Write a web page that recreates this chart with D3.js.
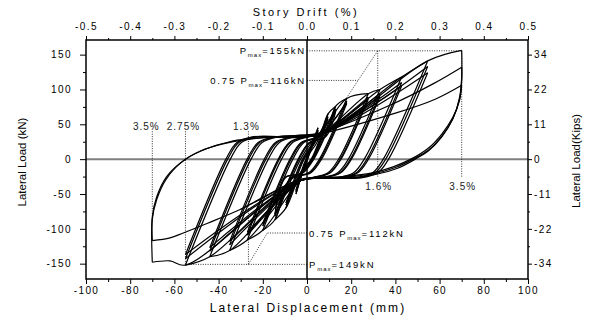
<!doctype html>
<html>
<head>
<meta charset="utf-8">
<title>Lateral load vs lateral displacement</title>
<script src="https://d3js.org/d3.v7.min.js"></script>
<style>
  body { margin:0; background:#fff; }
  svg { display:block; }
  svg text { font-family:"Liberation Sans", Arial, sans-serif; fill:#000; }
  .tick text { font-size:10px; letter-spacing:1.4px; }
  .tick line { stroke:#000; stroke-width:1; }
  .loop  { fill:none; stroke:#000; stroke-width:1.2; stroke-linejoin:round; }
  .guide { fill:none; stroke:#000; stroke-width:0.8; stroke-dasharray:1,1.4; }
  .note  { font-size:9.5px; letter-spacing:1.8px; }
  .mark  { font-size:10px; letter-spacing:1px; fill:#222; }
  .title-top { font-size:11px; letter-spacing:2.5px; }
  .title-bottom { font-size:12px; letter-spacing:2.1px; }
  .title-side { font-size:11.5px; }
</style>
</head>
<body>
<svg id="chart" width="593" height="320"></svg>
<script>
// axis ticks
const dispTicks       = [-100,-80,-60,-40,-20,0,20,40,60,80,100];
const dispMinorTicks  = [-90,-70,-50,-30,-10,10,30,50,70,90];
const driftTicks      = [-0.5,-0.4,-0.3,-0.2,-0.1,0,0.1,0.2,0.3,0.4,0.5];
const driftLabels     = ["-0.5","-0.4","-0.3","-0.2","-0.1","0.0","0.1","0.2","0.3","0.4","0.5"];
const driftMinorTicks = [-0.45,-0.35,-0.25,-0.15,-0.05,0.05,0.15,0.25,0.35,0.45];
const loadTicks       = [-150,-100,-50,0,50,100,150];
const loadMinorTicks  = [-125,-75,-25,25,75,125];
const kipsLabels      = ["-34","-22","-11","0","11","22","34"];

// cycle peaks (mm, kN), three cycles per displacement level
const peakPosDisp = [5,5,5, 9.5,9.5,9.5, 13,13,13, 18,18,18, 27.7,27.7,27.7, 33,33,33, 42.8,42.8,42.8, 54.6,54.6,54.6, 70,70,70];
const peakPosLoad = [45,42,40, 65,61,58, 76,72,69, 87,83,80, 94,89,86, 100,94,90, 118,110,105, 141,133,124, 156,132,106];
const peakNegDisp = [-5,-5,-5, -9.5,-9.5,-9.5, -14.5,-14.5,-14.5, -20,-20,-20, -27,-27,-27, -35,-35,-35, -44,-44,-44, -55,-55,-55, -70,-70];
const peakNegLoad = [-50,-47,-45, -70,-66,-63, -87,-82,-79, -102,-96,-92, -116,-109,-105, -131,-123,-118, -140,-132,-127, -152,-143,-137, -148,-117];

// displacement where each branch crosses 0 kN
const zeroUp   = [null,0,-0.3, -0.5,-1.3,-1.7, -2.1,-2.9,-3.6, -4,-6.4,-7.2, -7.7,-11.5,-12.5, -13,-17.5,-18.6, -19.3,-25.3,-26.4, -27.1,-34.7,-35.9, -36.7];
const zeroDown = [-0.3,0.1,0.3, 1.9,2.3,2.7, 2.1,2.7,3.1, 5.6,6.1,6.6, 14.3,15,15.4, 18.7,19.6,20.1, 25.9,27.1,27.8, 34.5,35.6,36.9];

// pinching plateaus (kN) and where they end (mm)
const upperPlateau = [24, 32, 36];
const lowerPlateau = [-20, -27, -31];
const upperPlateauEnd = 6;
const lowerPlateauEnd = -3;

// last-level loops at 70 mm, traced by hand
const rightBulbs = [
  [[70,156],[70,118],[69,88],[66,58],[61,32],[55,12],[49,0],[41,-13],[31,-22],[18,-27],[-3,-31]],
  [[70,132],[70,112],[69,86],[66,58],[61,33],[55,13],[48,0],[40,-12],[30,-21],[17,-26],[-3,-30]],
  [[70,106],[69,84],[66,60],[61,36],[55,16],[47,0],[39,-11],[29,-20],[16,-25],[-3,-29]]
];
const leftBulbs = [
  [[-70,-148],[-70,-83],[-68,-54],[-63.5,-25],[-55,0],[-45.5,15],[-35,25],[-27,29],[-15,32],[-3,34.5],[5,37],[38,78],[57,108]],
  [[-70,-117],[-70,-86],[-68,-58],[-64,-30],[-57,-5],[-48,12],[-38,22],[-28,28],[-15,32],[-3,34],[5,36],[40,66],[58,86]]
];
const negTailFirst  = [[-55,-152],[-62,-146],[-70,-148]];
const negTailSecond = [[-30,-72],[-45,-92],[-56,-106],[-62,-113],[-70,-117]];
const finalTail     = [[-18,-52],[-30,-72]];

// annotations
const notePrefix = ["", "0.75 ", "0.75 ", ""];
const noteValue  = ["155", "116", "112", "149"];
const noteLevel  = [155.5, 113, -106, -151];
const noteReach  = [70, 23, -18, -55];
const markDisp   = [-70, -55, -26.5, 32, 70];
const markLabel  = ["3.5%", "2.75%", "1.3%", "1.6%", "3.5%"];
const markTop    = [40, 40, 40, 155.5, 155.5];
const markBottom = [-84, -151, -151, -27, -27];
const slants     = [[[32,155.5],[17.5,86]], [[-26.5,-151],[-18,-106]]];

const svg = d3.select("#chart");
const L = 86, R = 528, T = 40, B = 279;
const x = d3.scaleLinear().domain([-100,100]).range([L,R]);
const y = d3.scaleLinear().domain([-172,171]).range([B,T]);
const drift = d3.scaleLinear().domain([-0.5,0.5]).range([L,R]);

// zero lines
svg.append("line").attr("x1",L).attr("x2",R).attr("y1",y(0)).attr("y2",y(0))
  .attr("stroke","#808080").attr("stroke-width",2);
svg.append("line").attr("x1",x(0)).attr("x2",x(0)).attr("y1",T).attr("y2",B)
  .attr("stroke","#000").attr("stroke-width",1.5);

// build the loop branches, peak to peak
const branches = [];
let cur = [0,0];
for (let i = 0; i < peakPosDisp.length; i++) {
  const dp = peakPosDisp[i], pp = peakPosLoad[i];
  // rising branch
  let pts;
  if (i >= 25) {
    pts = leftBulbs[i-25].slice();
  } else {
    pts = [cur];
    if (i > 0) {
      const z = zeroUp[i];
      pts.push([z,0]);
      [[z+5,upperPlateau[0]],[z+12,upperPlateau[1]],[upperPlateauEnd,upperPlateau[2]]].forEach(p => {
        const last = pts[pts.length-1];
        if (p[0] >= last[0]+2 && p[0] < dp-4 && p[1] < pp-10) pts.push(p);
      });
    }
    if (i % 3 === 0 && i >= 3) {
      const v = [peakPosDisp[i-3], peakPosLoad[i-3]];
      if (v[0] > pts[pts.length-1][0]+2) pts.push(v);
    }
  }
  pts.push([dp,pp]);
  branches.push(pts);

  // falling branch
  if (i >= 24) {
    pts = rightBulbs[i-24].slice();
    if (i === 24) pts = pts.concat(negTailFirst);
    else if (i === 25) pts = pts.concat(negTailSecond);
    else pts = pts.concat(finalTail);
    branches.push(pts);
    cur = pts[pts.length-1];
    continue;
  }
  const dn = peakNegDisp[i], pn = peakNegLoad[i];
  const z = zeroDown[i];
  pts = [[dp,pp],[z,0]];
  [[z-5,lowerPlateau[0]],[z-13,lowerPlateau[1]],[lowerPlateauEnd,lowerPlateau[2]]].forEach(p => {
    const last = pts[pts.length-1];
    if (p[0] <= last[0]-2 && p[0] > dn+4 && p[1] > pn+10) pts.push(p);
  });
  if (i % 3 === 0 && i >= 3) {
    const v = [peakNegDisp[i-3], peakNegLoad[i-3]];
    if (v[0] < pts[pts.length-1][0]-2) pts.push(v);
  }
  pts.push([dn,pn]);
  branches.push(pts);
  cur = [dn,pn];
}

const line = d3.line().x(d => x(d[0])).y(d => y(d[1])).curve(d3.curveCatmullRom.alpha(0.5));
svg.append("g").selectAll("path").data(branches).join("path")
  .attr("class","loop").attr("d", line);

// dotted guides
const guides = [];
noteLevel.forEach((lv,i) => guides.push([[0,lv],[noteReach[i],lv]]));
markDisp.forEach((d,i) => guides.push([[d,markTop[i]],[d,markBottom[i]]]));
slants.forEach(s => guides.push(s));
const straight = d3.line().x(d => x(d[0])).y(d => y(d[1]));
svg.append("g").selectAll("path").data(guides).join("path")
  .attr("class","guide").attr("d", straight);

// drift marks
svg.append("g").selectAll("text").data(markDisp).join("text")
  .attr("class","mark")
  .attr("x", (d,i) => x(d) + (i === 0 ? -6 : (d < 0 ? -2 : 1)))
  .attr("y", (d,i) => d < 0 ? y(markTop[i]) - 1.5 : y(markBottom[i]) + 12.5)
  .attr("text-anchor","middle")
  .text((d,i) => markLabel[i]);

// Pmax notes
noteLevel.forEach((lv,i) => {
  const t = svg.append("text").attr("class","note")
    .attr("x", lv > 0 ? x(0) - 1 : x(0) + 2)
    .attr("y", y(lv) + 3.5)
    .attr("text-anchor", lv > 0 ? "end" : "start");
  t.append("tspan").text(notePrefix[i] + "P");
  t.append("tspan").attr("dy",3).style("font-size","6px").style("letter-spacing","1px").text("max");
  t.append("tspan").attr("dy",-3).text("=" + noteValue[i] + "kN");
});

// frame
svg.append("rect").attr("x",L).attr("y",T).attr("width",R-L).attr("height",B-T)
  .attr("fill","none").attr("stroke","#000").attr("stroke-width",1.5);

// axes
function clean(g) { g.select(".domain").remove(); g.attr("font-family",null).attr("font-size",null); }
svg.append("g").attr("transform",`translate(0,${B})`)
  .call(d3.axisBottom(x).tickValues(dispTicks).tickSize(5).tickPadding(3).tickFormat(d => String(d))).call(clean);
svg.append("g").attr("transform",`translate(0,${B})`)
  .call(d3.axisBottom(x).tickValues(dispMinorTicks).tickSize(3).tickFormat("")).call(clean);
svg.append("g").attr("transform",`translate(0,${T})`)
  .call(d3.axisTop(drift).tickValues(driftTicks).tickSize(4).tickPadding(6.5).tickFormat((d,i) => driftLabels[i])).call(clean);
svg.append("g").attr("transform",`translate(0,${T})`)
  .call(d3.axisTop(drift).tickValues(driftMinorTicks).tickSize(2).tickFormat("")).call(clean);
svg.append("g").attr("transform",`translate(${L},0)`)
  .call(d3.axisLeft(y).tickValues(loadTicks).tickSize(6).tickPadding(8).tickFormat(d => String(d))).call(clean);
svg.append("g").attr("transform",`translate(${L},0)`)
  .call(d3.axisLeft(y).tickValues(loadMinorTicks).tickSize(3).tickFormat("")).call(clean);
svg.append("g").attr("transform",`translate(${R},0)`)
  .call(d3.axisRight(y).tickValues(loadTicks).tickSize(4).tickPadding(2).tickFormat((d,i) => kipsLabels[i])).call(clean);
svg.append("g").attr("transform",`translate(${R},0)`)
  .call(d3.axisRight(y).tickValues(loadMinorTicks).tickSize(2).tickFormat("")).call(clean);

// titles
svg.append("text").attr("class","title-top").attr("x",306).attr("y",16).attr("text-anchor","middle")
  .text("Story Drift (%)");
svg.append("text").attr("class","title-bottom").attr("x",308).attr("y",312).attr("text-anchor","middle")
  .text("Lateral Displacement (mm)");
svg.append("text").attr("class","title-side").attr("transform","translate(26,162) rotate(-90)").attr("text-anchor","middle")
  .text("Lateral Load (kN)");
svg.append("text").attr("class","title-side").attr("transform","translate(580,161) rotate(-90)").attr("text-anchor","middle")
  .text("Lateral Load(Kips)");
</script>
</body>
</html>
